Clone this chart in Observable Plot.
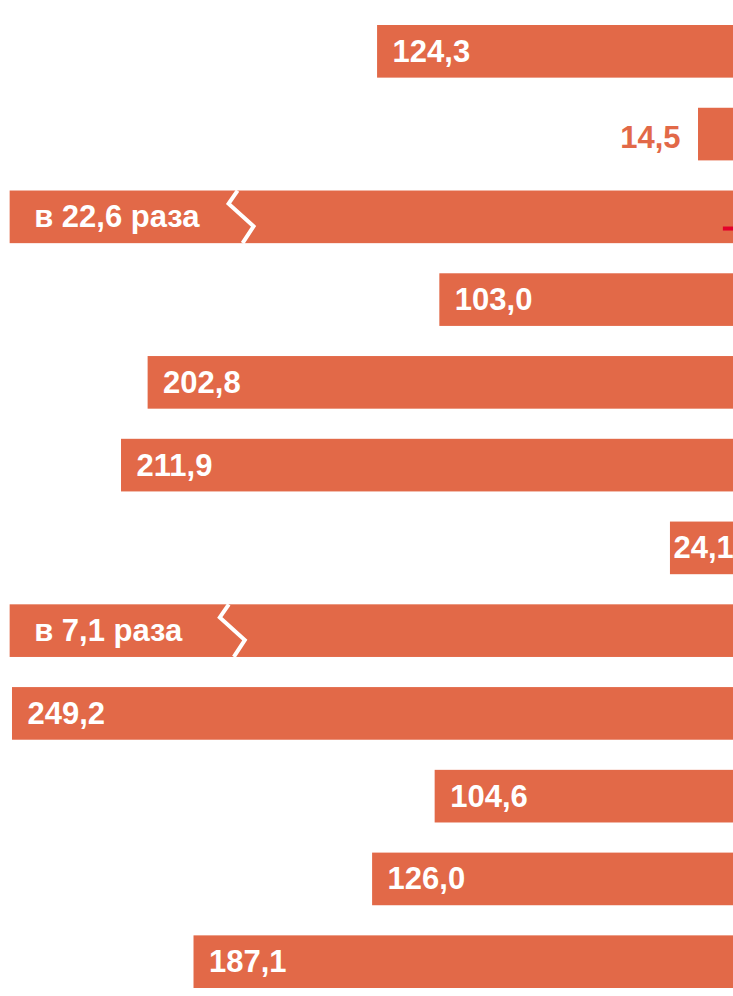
<!DOCTYPE html>
<html>
<head>
<meta charset="utf-8">
<script src="https://cdn.jsdelivr.net/npm/d3@7"></script>
<script src="https://cdn.jsdelivr.net/npm/@observablehq/plot@0.6"></script>
<style>
  html, body { margin: 0; padding: 0; background: #fff; overflow: hidden; }
  #chart svg { display: block; }
</style>
</head>
<body>
<div id="chart"></div>
<script>
// ---- data ----
const rows = ["1", "2", "3", "4", "5", "6", "7", "8", "9", "10", "11", "12"];
const values = [124.3, 14.5, null, 103.0, 202.8, 211.9, 24.1, null, 249.2, 104.6, 126.0, 187.1];
const ratios = [null, null, 22.6, null, null, null, null, 7.1, null, null, null, null];
const breakAt = [null, null, 171, null, null, null, null, 174, null, null, null, null];
const markerValues = [null, null, 6, null, null, null, null, null, null, null, null, null];
const axisMax = 250;

// ---- styles ----
const barColor = "#E26948";
const markerColor = "#E4002B";
const font = "'Liberation Sans', Arial, sans-serif";

const fmt = v => v.toFixed(1).replace(".", ",");

const data = rows.map((r, i) => ({
  row: r,
  value: values[i] != null ? values[i] : axisMax,
  broken: ratios[i] != null,
  label: ratios[i] != null ? `в ${fmt(ratios[i])} раза` : fmt(values[i]),
  breakAt: breakAt[i]
}));
const markers = rows.map((r, i) => ({row: r, value: markerValues[i]})).filter(d => d.value != null);

const outside = data.filter(d => !d.broken && d.value < 20);
const narrow = data.filter(d => !d.broken && d.value >= 20 && d.value < 40);
const regular = data.filter(d => !d.broken && d.value >= 40);
const broken = data.filter(d => d.broken);

const textBase = {x: "value", y: "row", text: "label", fontWeight: "bold", fontSize: 31, fontFamily: font};

const plot = Plot.plot({
  width: 733,
  height: 996,
  margin: 0,
  x: {domain: [0, axisMax], range: [740.4, 9.65], axis: null},
  y: {domain: rows, range: [25, 988], paddingInner: 0.364, paddingOuter: 0, round: false, axis: null},
  style: {background: "white", fontFamily: font},
  marks: [
    Plot.barX(data, {x: "value", y: "row", fill: barColor}),
    Plot.barX(markers, {x: "value", y: "row", fill: markerColor, insetTop: 36, insetBottom: 12.6}),
    Plot.text(regular, {...textBase, textAnchor: "start", dx: 15, fill: "white"}),
    Plot.text(narrow, {...textBase, textAnchor: "start", dx: 3, fill: "white"}),
    Plot.text(outside, {...textBase, textAnchor: "end", dx: -18, dy: 3, fill: barColor}),
    Plot.text(broken, {...textBase, textAnchor: "start", dx: 24, fill: "white"})
  ]
});

// axis-break zigzags, placed through the plot's own scales
const xs = plot.scale("x"), ys = plot.scale("y");
const svg = d3.select(plot);
for (const d of broken) {
  const c = xs.apply(d.breakAt);
  const t = ys.apply(d.row);
  const h = ys.bandwidth;
  const pts = [[c - 3, t], [c - 12, t + 0.25 * h], [c + 13, t + 0.68 * h], [c + 2, t + h]];
  svg.append("path")
    .attr("d", d3.line()(pts))
    .attr("fill", "none")
    .attr("stroke", "white")
    .attr("stroke-width", 4)
    .attr("stroke-linejoin", "miter");
}

document.getElementById("chart").appendChild(plot);
</script>
</body>
</html>
